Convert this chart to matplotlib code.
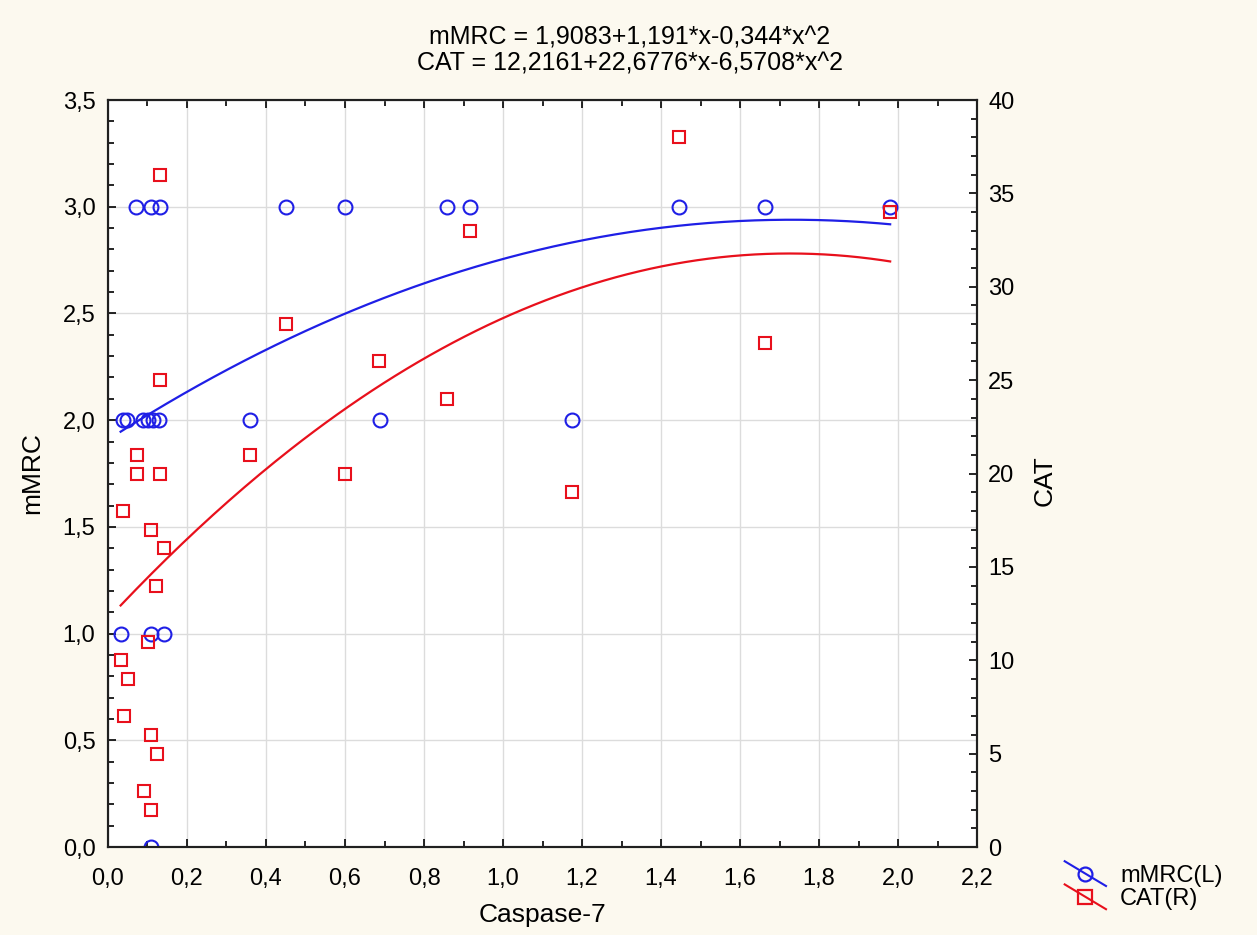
import numpy as np
import matplotlib
matplotlib.use("Agg")
import matplotlib.pyplot as plt
from matplotlib.lines import Line2D
from matplotlib.legend_handler import HandlerBase
from matplotlib.ticker import FuncFormatter, MultipleLocator

# --- Data ---
MMRC_X = [0.071, 0.109, 0.132, 0.451, 0.600, 0.858, 0.916, 1.446, 1.663, 1.980,
          0.039, 0.049, 0.089, 0.102, 0.115, 0.130, 0.360, 0.689, 1.175,
          0.032, 0.108, 0.142, 0.110]
MMRC_Y = [3, 3, 3, 3, 3, 3, 3, 3, 3, 3,
          2, 2, 2, 2, 2, 2, 2, 2, 2,
          1, 1, 1, 0]

CAT_X = [0.132, 0.132, 0.073, 0.073, 0.132, 0.039, 0.110, 0.142, 0.122,
         0.102, 0.032, 0.051, 0.040, 0.110, 0.123, 0.091, 0.110,
         0.451, 0.686, 0.360, 0.600, 0.858, 0.916, 1.175, 1.446, 1.663, 1.980]
CAT_Y = [36, 25, 21, 20, 20, 18, 17, 16, 14,
         11, 10, 9, 7, 6, 5, 3, 2,
         28, 26, 21, 20, 24, 33, 19, 38, 27, 34]

# quadratic fit coefficients as printed in the title (c0, c1, c2)
MMRC_FIT = [1.9083, 1.191, -0.344]
CAT_FIT = [12.2161, 22.6776, -6.5708]

TITLE = "mMRC = 1,9083+1,191*x-0,344*x^2\nCAT = 12,2161+22,6776*x-6,5708*x^2"

BLUE = "#1f1fe6"
RED = "#e8101c"
BG = "#fcf9ef"
GRID = "#dcdcdc"

plt.rcParams["font.family"] = ["Liberation Sans", "DejaVu Sans"]


class DiagHandler(HandlerBase):
    """Legend key: diagonal line with the marker on top."""

    def create_artists(self, legend, orig_handle, xdescent, ydescent,
                       width, height, fontsize, trans):
        x0, x1 = -xdescent, -xdescent + width
        y0, y1 = -ydescent + height * 1.25, -ydescent - height * 0.25
        line = Line2D([x0, x1], [y0, y1], color=orig_handle.get_color(),
                      lw=1.5, transform=trans)
        mark = Line2D([(x0 + x1) / 2], [(y0 + y1) / 2],
                      marker=orig_handle.get_marker(), ms=10, mfc="none",
                      mec=orig_handle.get_markeredgecolor(), mew=1.6,
                      ls="none", transform=trans)
        return [line, mark]


def comma(v, _pos):
    return f"{v:.1f}".replace(".", ",")


fig = plt.figure(figsize=(12.57, 9.35), dpi=100, facecolor=BG)
ax = fig.add_axes([0.0859, 0.0941, 0.6914, 0.7989])
ax.set_facecolor("white")
ax2 = ax.twinx()

# --- Scatter ---
ax.plot(MMRC_X, MMRC_Y, "o", ms=10, mfc="none", mec=BLUE, mew=1.5, zorder=4)
ax2.plot(CAT_X, CAT_Y, "s", ms=9, mfc="none", mec=RED, mew=1.5, zorder=4)

# --- Fitted curves ---
xs = np.linspace(min(MMRC_X), max(MMRC_X), 200)
ax.plot(xs, np.polyval(MMRC_FIT[::-1], xs), color=BLUE, lw=1.6, zorder=3)
xs2 = np.linspace(min(CAT_X), max(CAT_X), 200)
ax2.plot(xs2, np.polyval(CAT_FIT[::-1], xs2), color=RED, lw=1.6, zorder=3)

# --- Axes ---
ax.set_xlim(0, 2.2)
ax.set_ylim(0, 3.5)
ax2.set_ylim(0, 40)
ax.xaxis.set_major_locator(MultipleLocator(0.2))
ax.xaxis.set_minor_locator(MultipleLocator(0.1))
ax.yaxis.set_major_locator(MultipleLocator(0.5))
ax.yaxis.set_minor_locator(MultipleLocator(0.1))
ax2.yaxis.set_major_locator(MultipleLocator(5))
ax2.yaxis.set_minor_locator(MultipleLocator(1))
ax.xaxis.set_major_formatter(FuncFormatter(comma))
ax.yaxis.set_major_formatter(FuncFormatter(comma))

ax.grid(True, which="major", color=GRID, lw=1.0)
ax.set_axisbelow(True)
ax.tick_params(axis="both", which="both", direction="in", top=True,
               labelsize=17, width=1.2)
ax.tick_params(axis="x", pad=15)
ax.tick_params(axis="y", pad=9)
ax.tick_params(which="major", length=6)
ax.tick_params(which="minor", length=4)
ax2.tick_params(axis="y", which="both", direction="in", labelsize=17,
                width=1.2, pad=8)
ax2.tick_params(which="major", length=6)
ax2.tick_params(which="minor", length=4)
for a in (ax, ax2):
    for s in a.spines.values():
        s.set_linewidth(1.5)
        s.set_color("#202020")

ax.set_xlabel("Caspase-7", fontsize=19)
ax.xaxis.label.set_va("center")
ax.xaxis.set_label_coords(0.5, -0.091)
ax.set_ylabel("mMRC", fontsize=19)
ax.yaxis.label.set_va("center")
ax.yaxis.set_label_coords(-0.0875, 0.5)
ax2.set_ylabel("CAT", fontsize=19)
ax2.yaxis.label.set_va("center")
ax2.yaxis.set_label_coords(1.078, 0.491)

fig.text(0.501, 0.946, TITLE, ha="center", va="center", fontsize=18,
         linespacing=1.08)

h1 = Line2D([], [], color=BLUE, marker="o", mec=BLUE)
h2 = Line2D([], [], color=RED, marker="s", mec=RED)
fig.legend([h1, h2], ["mMRC(L)", "CAT(R)"], handler_map={Line2D: DiagHandler()},
           loc="upper left", bbox_to_anchor=(0.847, 0.075), frameon=False,
           fontsize=17, handlelength=1.75, handletextpad=0.6,
           labelspacing=0.05, borderpad=0, borderaxespad=0)

fig.savefig("out.png", dpi=100, facecolor=BG)
